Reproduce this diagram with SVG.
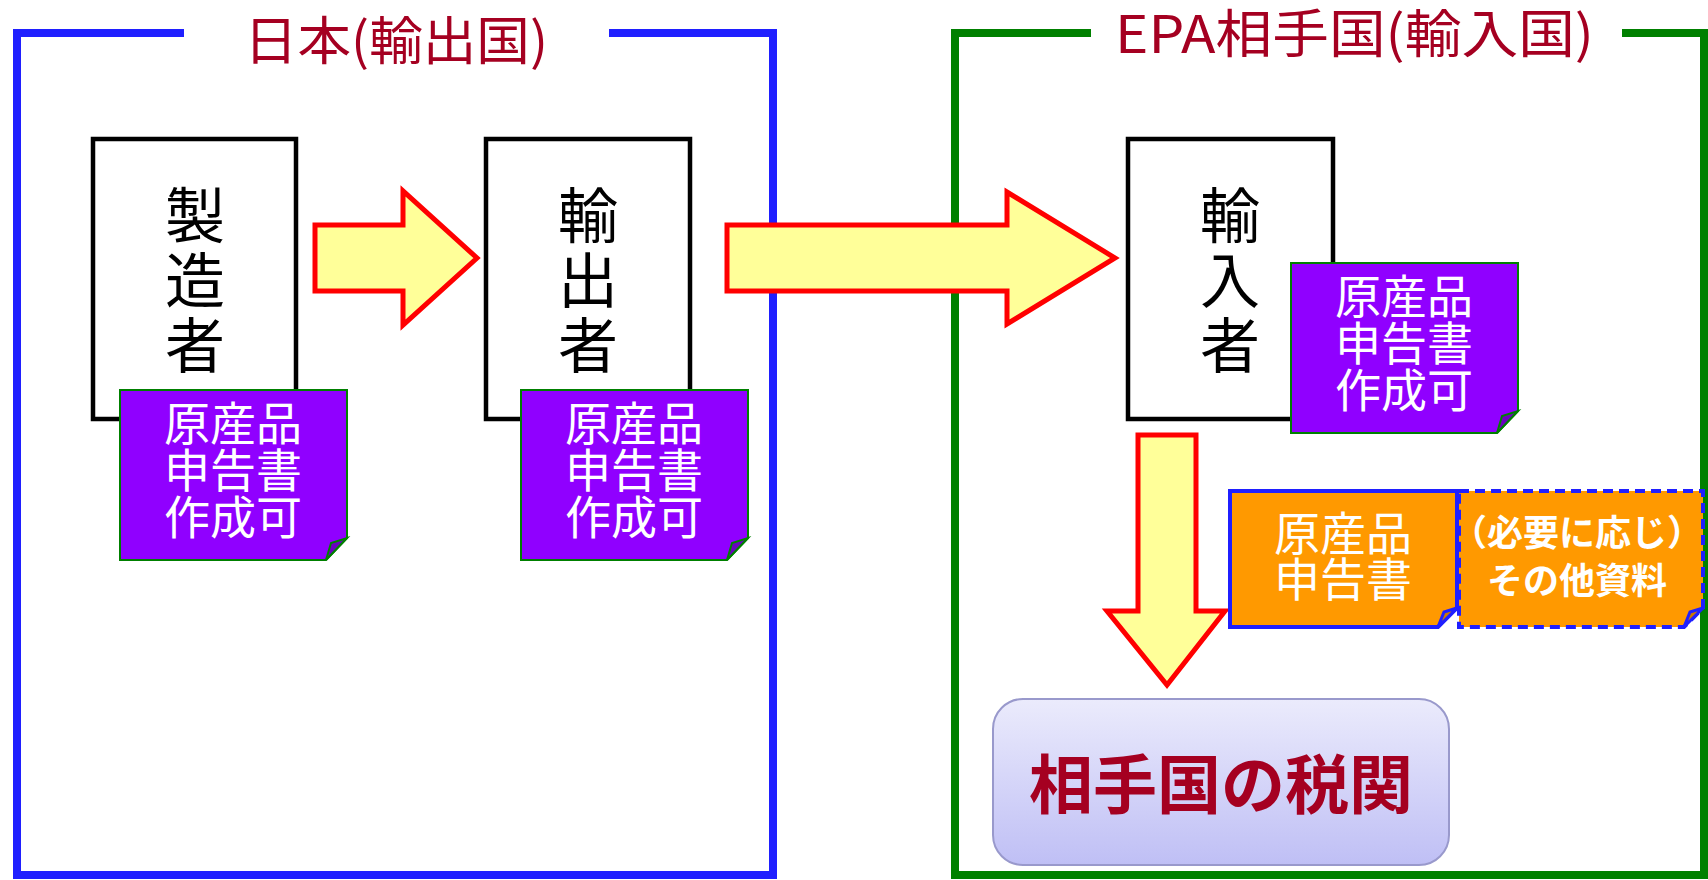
<svg xmlns="http://www.w3.org/2000/svg" width="1708" height="880" viewBox="0 0 1708 880">
<defs>
<style>
.frame{fill:none;stroke-width:8}
.title{font-family:"Noto Sans CJK JP","Noto Sans",sans-serif;font-size:52px;fill:#A50021}
.box{fill:#fff;stroke:#000;stroke-width:4.5}
.vt{font-family:"Noto Sans CJK JP",sans-serif;font-size:60px;fill:#000;text-anchor:middle}
.arrow{fill:#FFFF99;stroke:#FF0000;stroke-width:5}
.pnote{fill:#9000FF;stroke:#008000;stroke-width:2}
.pfold{fill:#6A00C0;stroke:#008000;stroke-width:2}
.ntext{font-family:"Noto Sans CJK JP",sans-serif;font-size:46px;fill:#fff;text-anchor:middle}
.onote{fill:#FF9900;stroke:#1F1FFF;stroke-width:4}
.ofold{fill:#CC7A00;stroke:#1F1FFF;stroke-width:3}
.dash{stroke-dasharray:10 6}
.btext{font-family:"Noto Sans CJK JP",sans-serif;font-size:36px;font-weight:bold;fill:#fff;text-anchor:middle}
.ctext{font-family:"Noto Sans CJK JP",sans-serif;font-size:64px;font-weight:bold;fill:#A50021;text-anchor:middle}
</style>
<linearGradient id="cg" x1="0" y1="0" x2="0" y2="1">
<stop offset="0" stop-color="#EBEBFC"/>
<stop offset="1" stop-color="#BFBFF5"/>
</linearGradient>
</defs>
<rect width="1708" height="880" fill="#fff"/>

<g id="frame-japan">
<path class="frame" stroke="#1F1FFF" d="M184,33 H17 V875 H773 V33 H609"/>
<text class="title" x="244" y="60" textLength="304" lengthAdjust="spacingAndGlyphs">日本(輸出国)</text>
</g>
<g id="frame-partner">
<path class="frame" stroke="#008000" d="M1091,33 H955 V875 H1704 V33 H1622"/>
<text class="title" x="1115" y="53" textLength="479" lengthAdjust="spacingAndGlyphs">EPA相手国(輸入国)</text>
</g>

<g id="manufacturer">
<rect class="box" x="93" y="139" width="203" height="280"/>
<text class="vt"><tspan x="195" y="238">製</tspan><tspan x="195" y="303">造</tspan><tspan x="195" y="368">者</tspan></text>
</g>
<g id="exporter">
<rect class="box" x="486" y="139" width="204" height="280"/>
<text class="vt"><tspan x="588" y="238">輸</tspan><tspan x="588" y="303">出</tspan><tspan x="588" y="368">者</tspan></text>
</g>
<g id="importer">
<rect class="box" x="1128" y="139" width="205" height="280"/>
<text class="vt"><tspan x="1230" y="238">輸</tspan><tspan x="1230" y="303">入</tspan><tspan x="1230" y="368">者</tspan></text>
</g>

<g id="note-manufacturer">
<path class="pnote" d="M120,390 H347 V538 L326,560 H120 Z"/>
<path class="pfold" d="M326,560 L331,543 L347,538 Z"/>
<text class="ntext"><tspan x="233" y="440">原産品</tspan><tspan x="233" y="487">申告書</tspan><tspan x="233" y="534">作成可</tspan></text>
</g>
<g id="note-exporter">
<path class="pnote" d="M521,390 H748 V538 L727,560 H521 Z"/>
<path class="pfold" d="M727,560 L732,543 L748,538 Z"/>
<text class="ntext"><tspan x="634" y="440">原産品</tspan><tspan x="634" y="487">申告書</tspan><tspan x="634" y="534">作成可</tspan></text>
</g>
<g id="note-importer">
<path class="pnote" d="M1291,263 H1518 V411 L1497,433 H1291 Z"/>
<path class="pfold" d="M1497,433 L1502,416 L1518,411 Z"/>
<text class="ntext"><tspan x="1404" y="313">原産品</tspan><tspan x="1404" y="360">申告書</tspan><tspan x="1404" y="407">作成可</tspan></text>
</g>

<g id="connectors">
<path class="arrow" d="M315,225 H403 V191 L477,258 L403,325 V291 H315 Z"/>
<path class="arrow" d="M727,225 H1007 V192 L1115,258 L1007,324 V291 H727 Z"/>
<path class="arrow" d="M1138,435 H1196 V611 H1225 L1167,685 L1107,611 H1138 Z"/>
</g>

<g id="other-docs">
<path class="onote dash" d="M1459,491 H1703 V608 L1684,627 H1459 Z"/>
<path class="ofold" d="M1684,627 L1690,612 L1703,608 Z"/>
<text class="btext"><tspan x="1577" y="546">（必要に応じ）</tspan><tspan x="1577" y="594">その他資料</tspan></text>
</g>
<g id="declaration">
<path class="onote" d="M1230,491 H1457 V608 L1438,627 H1230 Z"/>
<path class="ofold" d="M1438,627 L1444,612 L1457,608 Z"/>
<text class="ntext"><tspan x="1343" y="550">原産品</tspan><tspan x="1343" y="596">申告書</tspan></text>
</g>

<g id="customs">
<rect x="993" y="699" width="456" height="166" rx="30" fill="url(#cg)" stroke="#9999CC" stroke-width="2"/>
<text class="ctext" x="1221" y="808">相手国の税関</text>
</g>
</svg>
